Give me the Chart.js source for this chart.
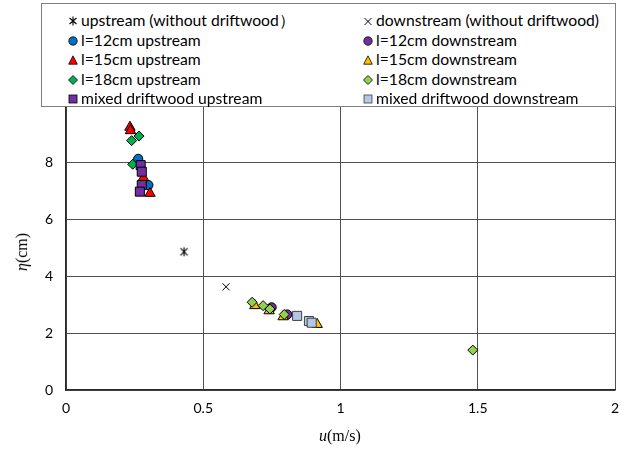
<!DOCTYPE html>
<html>
<head>
<meta charset="utf-8">
<script src="https://cdn.jsdelivr.net/npm/chart.js@4.4.1/dist/chart.umd.min.js"></script>
<style>
  html, body { margin: 0; padding: 0; background: #fff; }
  #wrap { position: relative; width: 633px; height: 453px; overflow: hidden; }
  #legend {
    position: absolute; left: 41px; top: 3px; width: 575px; height: 104px;
    border: 1px solid #7f7f7f; background: #fff; box-sizing: border-box;
    font-family: Lato, sans-serif; font-size: 15.7px; color: #000;
  }
  .item { position: absolute; height: 19px; line-height: 19px; white-space: nowrap; }
  .item svg { position: absolute; left: 0; top: 5px; }
  .item span { position: absolute; left: 13px; top: 0; }
  .axis-title { position: absolute; font-family: "Liberation Serif", serif; font-size: 16px; color: #000; white-space: nowrap; }
</style>
</head>
<body>
<div id="wrap">
  <canvas id="c" width="633" height="453"></canvas>
  <div id="legend"></div>
  <div class="axis-title" id="xt"><i>u</i>(m/s)</div>
  <div class="axis-title" id="yt"><i>η</i>(cm)</div>
</div>
<script>
// ---- data: [u (m/s), eta (cm)] ----
const upstreamNoWood   = [[0.43, 4.85]];
const downstreamNoWood = [[0.583, 3.62]];
const l12Up    = [[0.263, 8.11], [0.300, 7.19]];
const l12Down  = [[0.749, 2.90], [0.806, 2.65]];
const l15Up    = [[0.233, 9.22], [0.235, 9.10], [0.282, 7.45], [0.306, 6.90]];
const l15Down  = [[0.688, 2.96], [0.740, 2.78], [0.791, 2.57], [0.915, 2.30]];
const l18Up    = [[0.266, 8.91], [0.239, 8.75], [0.243, 7.92]];
const l18Down  = [[0.678, 3.08], [0.718, 2.96], [0.743, 2.84], [0.795, 2.65], [1.482, 1.40]];
const mixedUp  = [[0.272, 7.89], [0.276, 7.66], [0.276, 7.19], [0.269, 6.96]];
const mixedDown = [[0.842, 2.60], [0.885, 2.42], [0.895, 2.36]];

const seriesLabels = [
  'upstream (without driftwood）', 'downstream (without driftwood)',
  'l=12cm upstream', 'l=12cm downstream',
  'l=15cm upstream', 'l=15cm downstream',
  'l=18cm upstream', 'l=18cm downstream',
  'mixed driftwood upstream', 'mixed driftwood downstream'
];
const seriesData = [upstreamNoWood, downstreamNoWood, l12Up, l12Down, l15Up, l15Down, l18Up, l18Down, mixedUp, mixedDown];

const xTicks = [0, 0.5, 1, 1.5, 2];
const yTicks = [0, 2, 4, 6, 8, 10];

// asterisk marker (x plus vertical bar), like the spreadsheet "star"
function makeStar(size) {
  const cv = document.createElement('canvas');
  cv.width = size; cv.height = size;
  const g = cv.getContext('2d');
  const m = size / 2, r = size / 2 - 1;
  g.strokeStyle = '#000'; g.lineWidth = 1.1;
  g.beginPath();
  g.moveTo(m, m - r); g.lineTo(m, m + r);
  g.moveTo(m - r * 0.8, m - r * 0.8); g.lineTo(m + r * 0.8, m + r * 0.8);
  g.moveTo(m + r * 0.8, m - r * 0.8); g.lineTo(m - r * 0.8, m + r * 0.8);
  g.stroke();
  return cv;
}

const styles = [
  { pointStyle: makeStar(11), radius: 5, fill: '#000', stroke: '#000' },
  { pointStyle: 'crossRot', radius: 5, fill: '#000', stroke: '#000' },
  { pointStyle: 'circle', radius: 4.6, fill: '#0070C0', stroke: '#000' },
  { pointStyle: 'circle', radius: 4.6, fill: '#7030A0', stroke: '#000' },
  { pointStyle: 'triangle', radius: 6, fill: '#FF0000', stroke: '#000' },
  { pointStyle: 'triangle', radius: 6, fill: '#FFC000', stroke: '#000' },
  { pointStyle: 'rectRot', radius: 5, fill: '#00B050', stroke: '#000' },
  { pointStyle: 'rectRot', radius: 5, fill: '#92D050', stroke: '#000' },
  { pointStyle: 'rect', radius: 6.4, fill: '#7030A0', stroke: '#000' },
  { pointStyle: 'rect', radius: 6.4, fill: '#B4C7E7', stroke: '#404040' }
];

const datasets = seriesData.map((pts, i) => ({
  label: seriesLabels[i],
  data: pts.map(p => ({ x: p[0], y: p[1] })),
  pointStyle: styles[i].pointStyle,
  pointRadius: styles[i].radius,
  pointHoverRadius: styles[i].radius,
  backgroundColor: styles[i].fill,
  borderColor: styles[i].stroke,
  borderWidth: 1,
  showLine: false,
  order: seriesData.length - i   // later series drawn on top
}));

const tickFont = { family: 'Lato, sans-serif', size: 14 };

new Chart(document.getElementById('c'), {
  type: 'scatter',
  data: { datasets },
  options: {
    responsive: false,
    animation: false,
    devicePixelRatio: 1,
    layout: { padding: { top: 105, right: 18, bottom: 0, left: 0 } },
    plugins: { legend: { display: false }, tooltip: { enabled: false } },
    scales: {
      x: {
        type: 'linear', min: 0, max: 2,
        afterBuildTicks: s => { s.ticks = xTicks.map(v => ({ value: v })); },
        afterFit: s => { s.height = 63; },
        ticks: { color: '#000', font: tickFont, padding: 10, maxRotation: 0, callback: v => String(v) },
        grid: { color: '#505050', lineWidth: 1, drawTicks: false },
        border: { color: '#2a2a2a', width: 1.5 }
      },
      y: {
        type: 'linear', min: 0, max: 10,
        afterBuildTicks: s => { s.ticks = yTicks.map(v => ({ value: v })); },
        afterFit: s => { s.width = 66; },
        // the top label sits under the legend box in the original
        ticks: { color: '#000', font: tickFont, padding: 13, callback: v => (v === 10 ? '' : String(v)) },
        grid: { color: '#505050', lineWidth: 1, drawTicks: false },
        border: { color: '#2a2a2a', width: 1.5 }
      }
    }
  }
});

// ---- legend box (two columns, row-wise like the original) ----
function markerSvg(i) {
  const s = styles[i];
  const st = s.stroke, f = s.fill;
  let shape = '';
  if (i === 0) shape = `<path d="M5 0.5V9.5M1.5 2L8.5 8M8.5 2L1.5 8" stroke="#000" stroke-width="1.1" fill="none"/>`;
  else if (i === 1) shape = `<path d="M1.5 2L8.5 9M8.5 2L1.5 9" stroke="#000" stroke-width="1" fill="none"/>`;
  else if (s.pointStyle === 'circle') shape = `<circle cx="5" cy="5" r="4.2" fill="${f}" stroke="${st}" stroke-width="0.8"/>`;
  else if (s.pointStyle === 'triangle') shape = `<path d="M5 0.8L9.3 9.2H0.7Z" fill="${f}" stroke="${st}" stroke-width="0.8"/>`;
  else if (s.pointStyle === 'rectRot') shape = `<path d="M5 0.5L9.5 5L5 9.5L0.5 5Z" fill="${f}" stroke="${st}" stroke-width="0.8"/>`;
  else shape = `<rect x="1" y="1" width="8" height="8" fill="${f}" stroke="${st}" stroke-width="0.8"/>`;
  return `<svg width="10" height="10" viewBox="0 0 10 10">${shape}</svg>`;
}

const legend = document.getElementById('legend');
const colX = [26, 321];
seriesLabels.forEach((label, i) => {
  const row = Math.floor(i / 2), col = i % 2;
  const el = document.createElement('div');
  el.className = 'item';
  el.style.left = colX[col] + 'px';
  el.style.top = (7 + row * 19.5) + 'px';
  el.innerHTML = markerSvg(i) + '<span>' + label + '</span>';
  legend.appendChild(el);
});

// axis titles
const xt = document.getElementById('xt');
xt.style.left = (340 - xt.offsetWidth / 2) + 'px';
xt.style.top = '427px';
const yt = document.getElementById('yt');
yt.style.left = (22 - yt.offsetWidth / 2) + 'px';
yt.style.top = (252 - yt.offsetHeight / 2) + 'px';
yt.style.transform = 'rotate(-90deg)';
</script>
</body>
</html>
